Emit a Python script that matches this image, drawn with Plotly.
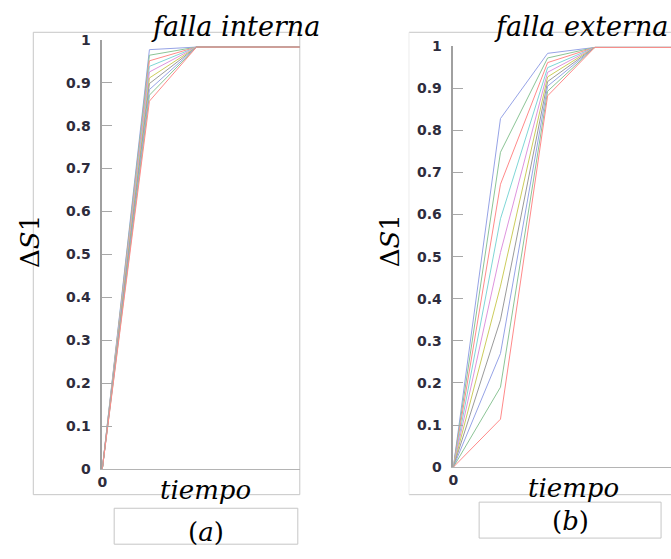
import plotly.graph_objects as go

# time steps
tiempo = [0, 1, 2, 3, 4, 5]

# ΔS1 curves, internal fault (one list per curve)
interna = [
    [0, 0.977, 0.983, 0.983, 0.983, 0.983],
    [0, 0.964, 0.983, 0.983, 0.983, 0.983],
    [0, 0.951, 0.983, 0.983, 0.983, 0.983],
    [0, 0.938, 0.983, 0.983, 0.983, 0.983],
    [0, 0.925, 0.983, 0.983, 0.983, 0.983],
    [0, 0.911, 0.983, 0.983, 0.983, 0.983],
    [0, 0.898, 0.983, 0.983, 0.983, 0.983],
    [0, 0.884, 0.983, 0.983, 0.983, 0.983],
    [0, 0.871, 0.983, 0.983, 0.983, 0.983],
    [0, 0.857, 0.983, 0.983, 0.983, 0.983],
]

# ΔS1 curves, external fault
externa = [
    [0, 0.828, 0.983, 0.997, 0.997, 0.997],
    [0, 0.748, 0.972, 0.997, 0.997, 0.997],
    [0, 0.672, 0.961, 0.997, 0.997, 0.997],
    [0, 0.590, 0.949, 0.997, 0.997, 0.997],
    [0, 0.510, 0.938, 0.997, 0.997, 0.997],
    [0, 0.430, 0.927, 0.997, 0.997, 0.997],
    [0, 0.350, 0.916, 0.997, 0.997, 0.997],
    [0, 0.270, 0.905, 0.997, 0.997, 0.997],
    [0, 0.190, 0.893, 0.997, 0.997, 0.997],
    [0, 0.114, 0.882, 0.997, 0.997, 0.997],
]

# light b g r c m y k cycle
colores = ["#96a3e6", "#8cc496", "#ff8a8a", "#7fd6d6", "#de94de",
           "#cccc5c", "#9a9a9a", "#96a3e6", "#8cc496", "#ff8a8a"]

ytick_vals = [0, 0.1, 0.2, 0.3, 0.4, 0.5, 0.6, 0.7, 0.8, 0.9, 1]
ytick_text = ["0", "0.1", "0.2", "0.3", "0.4", "0.5", "0.6", "0.7", "0.8", "0.9", "1"]

W, H = 671, 559


def px(x):
    return x / W


def py(y):
    return 1 - y / H


fig = go.Figure()

for serie, color in zip(interna, colores):
    fig.add_trace(go.Scatter(x=tiempo, y=serie, mode="lines", xaxis="x", yaxis="y",
                             line=dict(color=color, width=1), showlegend=False))
for serie, color in zip(externa, colores):
    fig.add_trace(go.Scatter(x=tiempo, y=serie, mode="lines", xaxis="x2", yaxis="y2",
                             line=dict(color=color, width=1), showlegend=False))

tick_font = dict(family="DejaVu Sans", size=14, color="#2e2c3c", weight="bold")

yaxis_common = dict(
    range=[0, 1], tickvals=ytick_vals, ticktext=ytick_text,
    showline=True, linecolor="#a0a0a0", linewidth=1.5,
    ticks="inside", ticklen=10, tickcolor="#a8a8a8", tickwidth=1,
    showgrid=False, zeroline=False, tickfont=tick_font, ticklabelstandoff=7,
)
xaxis_common = dict(
    tickvals=[0], ticktext=["0"], showline=True, linecolor="#b4b4b4", linewidth=1.2,
    ticks="", showgrid=False, zeroline=False, tickfont=tick_font,
)

fig.update_layout(
    width=W, height=H, margin=dict(l=0, r=0, t=0, b=0),
    paper_bgcolor="white", plot_bgcolor="white",
    xaxis=dict(domain=[px(98), px(297)], range=[0, 199 / 47.5], anchor="y", **xaxis_common),
    yaxis=dict(domain=[py(474.7), py(32.7)], anchor="x", **yaxis_common),
    xaxis2=dict(domain=[px(451.7), 1.0], range=[0, 219.3 / 47.5], anchor="y2", **xaxis_common),
    yaxis2=dict(domain=[py(472.7), py(39.3)], anchor="x2", **yaxis_common),
)

frame = dict(color="#c6c6c6", width=1)
shapes = [
    # panel (a) frame
    dict(type="rect", xref="paper", yref="paper", x0=px(28.5), x1=px(297), y0=py(501), y1=py(25),
         line=frame, layer="below"),
    # panel (b) frame
    dict(type="line", xref="paper", yref="paper", x0=px(407), x1=1.0, y0=py(25), y1=py(25), line=frame),
    dict(type="line", xref="paper", yref="paper", x0=px(407), x1=1.0, y0=py(501), y1=py(501), line=frame),
    dict(type="line", xref="paper", yref="paper", x0=px(407), x1=px(407), y0=py(501), y1=py(25),
         line=dict(color="#ececec", width=1)),
    # caption boxes
    dict(type="rect", xref="paper", yref="paper", x0=px(110), x1=px(295), y0=py(552), y1=py(515),
         line=frame),
    dict(type="rect", xref="paper", yref="paper", x0=px(477.7), x1=px(661), y0=py(545.7), y1=py(508.7),
         line=frame),
]
fig.update_layout(shapes=shapes)

serif = dict(family="DejaVu Serif", color="black")


def texto(x, y, s, size, italic=True, angle=0):
    fig.add_annotation(x=px(x), y=py(y), xref="paper", yref="paper", text=s, showarrow=False,
                       xanchor="center", yanchor="middle", textangle=angle,
                       font=dict(size=size, style="italic" if italic else "normal", **serif))


texto(232, 19, "falla interna", 27)
texto(580, 19, "falla externa", 27)
texto(202, 496, "tiempo", 26)
texto(573, 494, "tiempo", 26)
texto(203, 539, "(<i>a</i>)", 26, italic=False)
texto(570, 528, "(<i>b</i>)", 26, italic=False)
texto(25, 240, "Δ<i>S</i>1", 26, italic=False, angle=-90)
texto(388, 240, "Δ<i>S</i>1", 26, italic=False, angle=-90)

fig.write_html("out.html")
